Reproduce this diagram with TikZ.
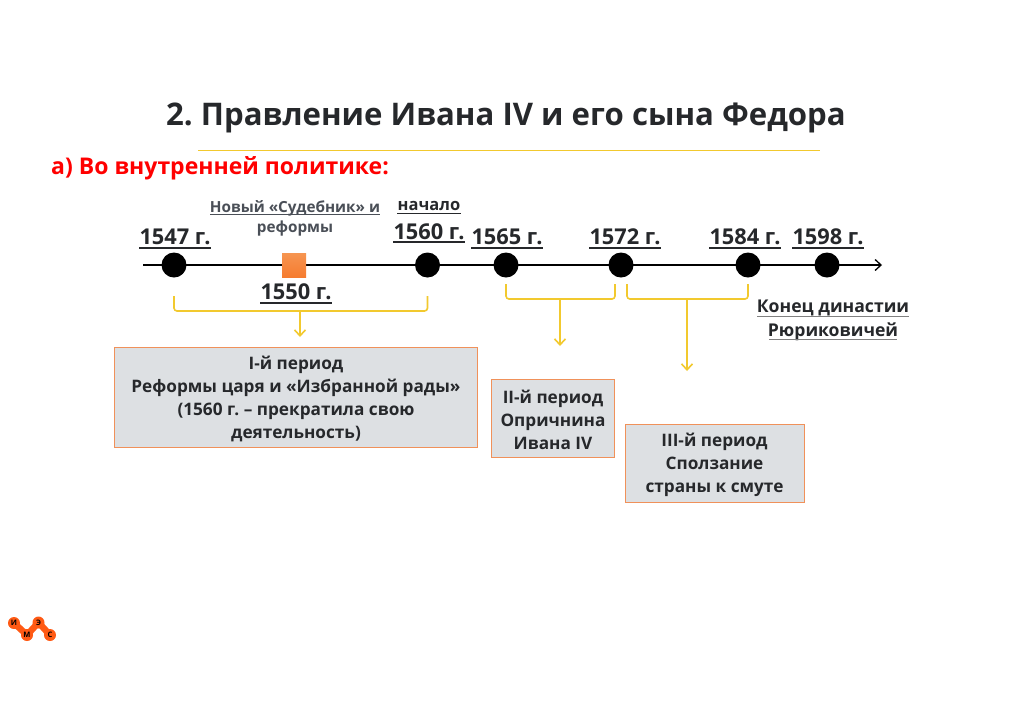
\documentclass[tikz,border=0pt]{standalone}
\usepackage{fontspec}
\setmainfont{Open Sans}
\usetikzlibrary{arrows.meta}
\frenchspacing
\definecolor{brace}{HTML}{F2C92E}
\definecolor{boxfill}{HTML}{DDE0E3}
\definecolor{boxline}{HTML}{F0915A}
\definecolor{ims}{HTML}{FF5A14}
\definecolor{sq}{HTML}{F58232}
\definecolor{dark}{HTML}{26282B}
\definecolor{grayt}{HTML}{4A4F57}
\newcommand\lowerbox{\rule{0pt}{17pt}}
\tikzset{
  x=1pt,y=-1pt,
  dot/.style={circle,fill=black,minimum size=25pt,inner sep=0pt},
  year/.style={font=\fontsize{21.8}{26}\selectfont\bfseries,text=dark,inner sep=0pt},
  period/.style={draw=boxline,line width=0.9pt,fill=boxfill,align=center,text=dark,font=\fontsize{17.2}{23}\selectfont\bfseries,inner sep=0pt},
  bracket/.style={draw=brace,line width=1.6pt,rounded corners=3pt},
  drop/.style={draw=brace,line width=1.6pt,-{Straight Barb[length=6pt,width=11pt]}},
  ul/.style={draw=dark,line width=1.1pt},
  imsdot/.style={circle,fill=ims,minimum size=12pt,inner sep=0pt,font=\fontsize{7.5}{8}\selectfont\bfseries,text=black},
}
\begin{document}
\begin{tikzpicture}
\useasboundingbox (0,0) rectangle (1024,724);
\fill[white] (0,0) rectangle (1024,724);
\node[font=\fontsize{31.15}{36}\selectfont\bfseries,text=dark,inner sep=0pt] (title) at (506,118) {2. Правление Ивана IV и его сына Федора};
\coordinate (rs) at (198,150.5); \coordinate (re) at (820,150.5);
\draw[draw=brace,line width=1pt] (rs) -- (re);
\node[font=\fontsize{23}{26}\selectfont\bfseries,text=red,anchor=west,inner sep=0pt] (sub) at (51,168) {а) Во внутренней политике:};
% axis
\coordinate (as) at (143,265); \coordinate (ae) at (882,265);
\draw[line width=1.3pt,-{Straight Barb[length=6pt,width=11pt]}] (as) -- (ae);
\node[dot] (d1) at (174,265) {};
\node[dot] (d2) at (427.5,265) {};
\node[dot] (d3) at (506,265) {};
\node[dot] (d4) at (621,265) {};
\node[dot] (d5) at (748,265) {};
\node[dot] (d6) at (827,265) {};
\node[draw=none,minimum size=24pt,inner sep=0pt,top color=sq!85!white,bottom color=sq!95!red] (sq) at (294,265) {};
% years
\node[year] (y1) at (175,237) {1547 г.};
\node[year] (y2) at (429,232) {1560 г.};
\node[year] (y3) at (507,237) {1565 г.};
\node[year] (y4) at (625,237) {1572 г.};
\node[year] (y5) at (745,237) {1584 г.};
\node[year] (y6) at (828,237) {1598 г.};
\node[year] (y7) at (296,292) {1550 г.};
\foreach \n/\a/\b/\y in {y1/139/211/248,y2/393/465/242,y3/471/543/248,y4/589/661/248,y5/709/781/248,y6/792/864/248,y7/260/332/303}{
  \draw[ul] (\a,\y) -- (\b,\y);
}
\node[font=\fontsize{15.3}{20}\selectfont\bfseries,text=grayt,inner sep=0pt,align=center] (ref) at (295,218) {Новый «Судебник» и\\реформы};
\draw[draw=grayt,line width=0.7pt] (210,214) -- (380,214);
\node[font=\fontsize{16.5}{18}\selectfont\bfseries,text=dark,inner sep=0pt] (nach) at (429,206) {начало};
\draw[draw=dark,line width=0.7pt] (397,213) -- (461,213);
\node[font=\fontsize{17.6}{24}\selectfont\bfseries,text=dark,inner sep=0pt,align=center] (end) at (833,320) {Конец династии\\Рюриковичей};
\draw[draw=gray,line width=0.7pt] (757,316) -- (909,316);
\draw[draw=gray,line width=0.7pt] (769,339) -- (897,339);
% boxes
\node[period,minimum width=363pt,minimum height=100pt] (b1) at (296,397) {\lowerbox I-й период\\Реформы царя и «Избранной рады»\\(1560 г. – прекратила свою\\деятельность)};
\node[period,minimum width=123pt,minimum height=78pt] (b2) at (553,418) {\lowerbox II-й период\\Опричнина\\Ивана IV};
\node[period,minimum width=179pt,minimum height=78pt] (b3) at (714.5,463) {\lowerbox III-й период\\Сползание\\страны к смуте};
% brackets
\coordinate (k1) at (174,296); \coordinate (k2) at (427.5,296);
\coordinate (j1) at (300,311); \coordinate (t1) at (300,337);
\draw[bracket] (k1) -- (174,311) -- (427.5,311) -- (k2);
\draw[drop] (j1) -- (t1);
\coordinate (k3) at (506,284); \coordinate (k4) at (615,284);
\coordinate (j2) at (560,299); \coordinate (t2) at (560,346);
\draw[bracket] (k3) -- (506,299) -- (615,299) -- (k4);
\draw[drop] (j2) -- (t2);
\coordinate (k5) at (627,284); \coordinate (k6) at (748,284);
\coordinate (j3) at (687,299); \coordinate (t3) at (687,371);
\draw[bracket] (k5) -- (627,299) -- (748,299) -- (k6);
\draw[drop] (j3) -- (t3);
% logo
\coordinate (il) at (14,623); \coordinate (ml) at (27,635); \coordinate (el) at (38.5,622.5); \coordinate (sl) at (50,635);
\draw[ims,line width=6.5pt] (il) -- (ml) -- (el) -- (sl);
\node[imsdot] (i) at (il) {И};
\node[imsdot] (m) at (ml) {М};
\node[imsdot] (e) at (el) {Э};
\node[imsdot] (s) at (sl) {С};
\end{tikzpicture}
\end{document}
